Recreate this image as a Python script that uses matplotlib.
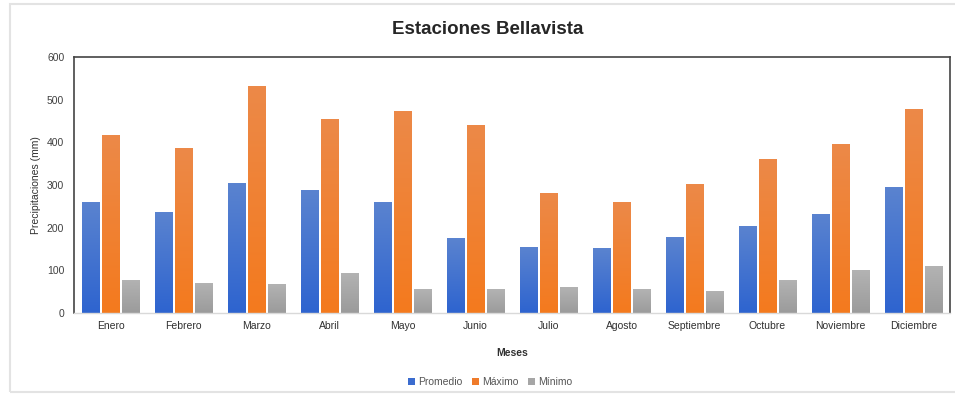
import matplotlib
matplotlib.use("Agg")
import matplotlib.pyplot as plt
import numpy as np
from matplotlib.patches import Rectangle
from matplotlib.colors import to_rgb

meses = ["Enero", "Febrero", "Marzo", "Abril", "Mayo", "Junio", "Julio",
         "Agosto", "Septiembre", "Octubre", "Noviembre", "Diciembre"]
promedio = [259, 236, 304, 288, 259, 175, 155, 152, 178, 204, 233, 295]
maximo = [417, 386, 532, 454, 474, 441, 282, 259, 302, 360, 396, 478]
minimo = [78, 71, 68, 94, 56, 56, 61, 56, 52, 78, 100, 110]
yticks = [0, 100, 200, 300, 400, 500, 600]

plt.rcParams['font.family'] = ['Liberation Sans', 'DejaVu Sans']

W, H = 955, 398
fig = plt.figure(figsize=(W / 100, H / 100), dpi=100)

# light chart-area border
fig.add_artist(Rectangle((10 / W, 1 - 392 / H), 950 / W, 388 / H,
                         transform=fig.transFigure, fill=False,
                         edgecolor="#e3e3e3", linewidth=1.5))

ax = fig.add_axes([74 / W, 1 - 313 / H, (950 - 74) / W, (313 - 57) / H])

x = np.arange(len(meses))
w = 0.24
step = 0.274
# (values, legend colour, gradient top, gradient bottom, label)
series = [(promedio, "#3b6ccf", "#5a83d0", "#2e64cf", "Promedio"),
          (maximo, "#ef7b2b", "#ec8948", "#f47a1e", "Máximo"),
          (minimo, "#a6a6a6", "#b3b3b3", "#9b9b9b", "Mínimo")]


def gradient_fill(bar, top, bottom):
    x0, y0 = bar.get_x(), bar.get_y()
    bw, bh = bar.get_width(), bar.get_height()
    t = np.linspace(0, 1, 64)[:, None]
    c0, c1 = np.array(to_rgb(bottom)), np.array(to_rgb(top))
    img = (c0[None, :] * (1 - t) + c1[None, :] * t)[:, None, :]
    im = ax.imshow(img, extent=(x0, x0 + bw, y0, y0 + bh), origin="lower",
                   aspect="auto", interpolation="bilinear", zorder=2)
    im.set_clip_path(bar)


for i, (vals, col, top, bottom, lab) in enumerate(series):
    bars = ax.bar(x + (i - 1) * step, vals, width=w, color=col, label=lab,
                  zorder=1)
    for b in bars:
        gradient_fill(b, top, bottom)

ax.set_xlim(-0.5, len(meses) - 0.5)
ax.set_ylim(0, 600)
ax.set_yticks(yticks)
ax.set_yticklabels([str(t) for t in yticks], fontsize=7.5, color="#404040")
ax.set_xticks(x)
ax.set_xticklabels(meses, fontsize=7.5, color="#303030")
ax.tick_params(axis="x", length=0, pad=6)
ax.tick_params(axis="y", length=0, pad=7)

for s in ["left", "top", "right"]:
    ax.spines[s].set_color("#444444")
    ax.spines[s].set_linewidth(1.2)
ax.spines["bottom"].set_color("#d9d9d9")
ax.spines["bottom"].set_linewidth(1.0)
for s in ax.spines.values():
    s.set_zorder(3)

ax.set_ylabel("Precipitaciones (mm)", fontsize=7.5, color="#303030")
ax.yaxis.set_label_coords(-0.0377, 0.5)
ax.set_xlabel("Meses", fontsize=7.5, fontweight="bold", color="#303030")
ax.xaxis.set_label_coords(0.5, -0.135)

fig.text(488 / W, 1 - 30 / H, "Estaciones Bellavista", ha="center", va="center",
         fontsize=13.5, fontweight="bold", color="#262626")

fig.legend(loc="center", bbox_to_anchor=(490 / W, 1 - 382 / H), ncol=3,
           frameon=False, fontsize=7.5, handlelength=0.7, handleheight=0.7,
           handletextpad=0.3, columnspacing=0.9, labelcolor="#555555")

fig.savefig("out.png", dpi=100)
